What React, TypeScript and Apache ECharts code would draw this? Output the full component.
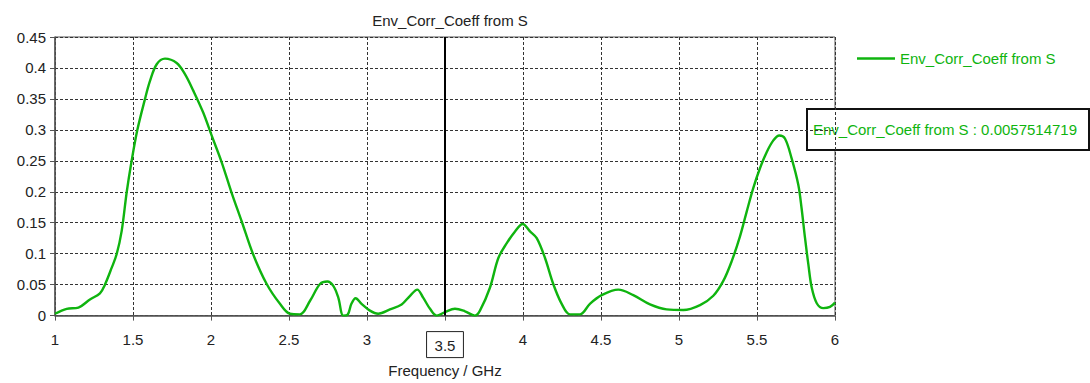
import React, { useEffect, useRef } from "react";
import * as echarts from "echarts";

const TITLE = "Env_Corr_Coeff from S";
const SERIES_NAME = "Env_Corr_Coeff from S";
const X_NAME = "Frequency / GHz";
const MARKER_X = 3.5;
const MARKER_VALUE = "0.0057514719";

const freq: number[] = [
  1.0, 1.075, 1.15, 1.224, 1.288, 1.32, 1.363, 1.395, 1.427, 1.46, 1.49, 1.528, 1.577, 1.609, 1.652, 1.705,
  1.78, 1.833, 1.887, 1.95, 2.004, 2.068, 2.13, 2.197, 2.27, 2.357, 2.442, 2.506, 2.57, 2.635, 2.699, 2.746,
  2.784, 2.816, 2.848, 2.874, 2.9, 2.927, 2.965, 3.019, 3.072, 3.147, 3.222, 3.276, 3.322, 3.36, 3.404, 3.447,
  3.5, 3.564, 3.628, 3.692, 3.724, 3.788, 3.842, 3.896, 3.949, 3.998, 4.045, 4.088, 4.141, 4.194, 4.248, 4.301,
  4.365, 4.429, 4.504, 4.611, 4.707, 4.814, 4.921, 5.028, 5.135, 5.22, 5.284, 5.338, 5.391, 5.434, 5.476, 5.519,
  5.562, 5.605, 5.643, 5.679, 5.722, 5.765, 5.786, 5.808, 5.829, 5.851, 5.883, 5.925, 5.968, 6.0,
];

const coeff: number[] = [
  0.003, 0.011, 0.013, 0.026, 0.036, 0.05, 0.077, 0.099, 0.136, 0.2, 0.248, 0.3, 0.35, 0.379, 0.406, 0.415,
  0.408, 0.39, 0.363, 0.328, 0.291, 0.248, 0.2, 0.152, 0.099, 0.051, 0.019, 0.003, 0.002, 0.024, 0.051, 0.055,
  0.048, 0.029, 0.0, 0.001, 0.019, 0.028, 0.019, 0.008, 0.003, 0.01, 0.018, 0.032, 0.042, 0.029, 0.011, 0.0,
  0.0058, 0.011, 0.007, 0.0, 0.008, 0.045, 0.093, 0.117, 0.136, 0.148, 0.136, 0.125, 0.093, 0.051, 0.019, 0.002,
  0.002, 0.019, 0.033, 0.042, 0.033, 0.018, 0.01, 0.009, 0.017, 0.032, 0.056, 0.088, 0.128, 0.168, 0.206, 0.238,
  0.264, 0.283, 0.291, 0.286, 0.254, 0.211, 0.173, 0.125, 0.083, 0.045, 0.02, 0.012, 0.014, 0.021,
];

const GREEN = "#0fb40f";
const FONT = "'Liberation Sans', Arial, sans-serif";

export default function App() {
  const ref = useRef<HTMLDivElement>(null);
  useEffect(() => {
    if (!ref.current) return;
    const chart = echarts.init(ref.current, undefined, { renderer: "svg", width: 1090, height: 383 });
    const data = freq.map((f, i) => [f, coeff[i]]);
    chart.setOption({
      animation: false,
      backgroundColor: "#ffffff",
      textStyle: { fontFamily: FONT },
      title: {
        text: TITLE,
        left: 445,
        top: 8,
        textAlign: "center",
        textStyle: { fontSize: 15, fontWeight: "normal", color: "#222", fontFamily: FONT },
      },
      legend: {
        left: 852,
        top: 46,
        itemWidth: 38,
        itemHeight: 14,
        itemGap: 7,
        textStyle: { fontSize: 15, color: GREEN, fontFamily: FONT },
        data: [{ name: SERIES_NAME, icon: "path://M0,6 L38,6 L38,8.5 L0,8.5 Z" }],
      },
      grid: {
        left: 55,
        width: 780,
        top: 37,
        height: 281,
        show: true,
        borderColor: "#555",
        borderWidth: 1,
        backgroundColor: "#fff",
      },
      xAxis: {
        type: "value",
        min: 1,
        max: 6,
        interval: 0.5,
        name: X_NAME,
        nameLocation: "middle",
        nameGap: 44,
        nameTextStyle: { fontSize: 15, color: "#222", fontFamily: FONT },
        axisLine: { show: true, onZero: false, lineStyle: { color: "#555", width: 1.5 } },
        axisTick: { show: true, length: 5, lineStyle: { color: "#555" } },
        axisLabel: {
          fontSize: 15,
          color: "#222",
          margin: 16,
          fontFamily: FONT,
          formatter: (v: number) => (Math.abs(v - MARKER_X) < 1e-9 ? `{box|${v}}` : `${v}`),
          rich: {
            box: {
              fontSize: 15,
              color: "#222",
              fontFamily: FONT,
              borderColor: "#222",
              borderWidth: 1,
              padding: [6, 8, 5, 8],
            },
          },
        },
        splitLine: { show: true, lineStyle: { color: "#333", type: [3, 2], width: 1 } },
      },
      yAxis: {
        type: "value",
        min: 0,
        max: 0.45,
        interval: 0.05,
        axisLine: { show: true, lineStyle: { color: "#555", width: 1.5 } },
        axisTick: { show: true, length: 5, lineStyle: { color: "#555" } },
        axisLabel: {
          fontSize: 15,
          color: "#222",
          margin: 9,
          fontFamily: FONT,
          formatter: (v: number) => `${parseFloat(v.toFixed(2))}`,
        },
        splitLine: { show: true, lineStyle: { color: "#333", type: [3, 2], width: 1 } },
      },
      series: [
        {
          name: SERIES_NAME,
          type: "line",
          data,
          smooth: 0.35,
          symbol: "none",
          lineStyle: { color: GREEN, width: 2.4 },
          itemStyle: { color: GREEN },
          markLine: {
            silent: true,
            symbol: "none",
            label: { show: false },
            lineStyle: { color: "#000", width: 2, type: "solid" },
            data: [{ xAxis: MARKER_X }],
          },
        },
      ],
      graphic: [
        {
          type: "group",
          left: 806,
          top: 108,
          children: [
            {
              type: "rect",
              shape: { x: 0, y: 0, width: 282, height: 41 },
              style: { fill: "#fff", stroke: "#111", lineWidth: 2 },
            },
            {
              type: "text",
              x: 6,
              y: 20,
              style: {
                text: `${SERIES_NAME} : ${MARKER_VALUE}`,
                fill: GREEN,
                fontSize: 15,
                fontFamily: FONT,
                verticalAlign: "middle",
              },
            },
          ],
        },
      ],
    });
    return () => chart.dispose();
  }, []);
  return <div ref={ref} style={{ position: "fixed", left: 0, top: 0, width: 1090, height: 383 }} />;
}
